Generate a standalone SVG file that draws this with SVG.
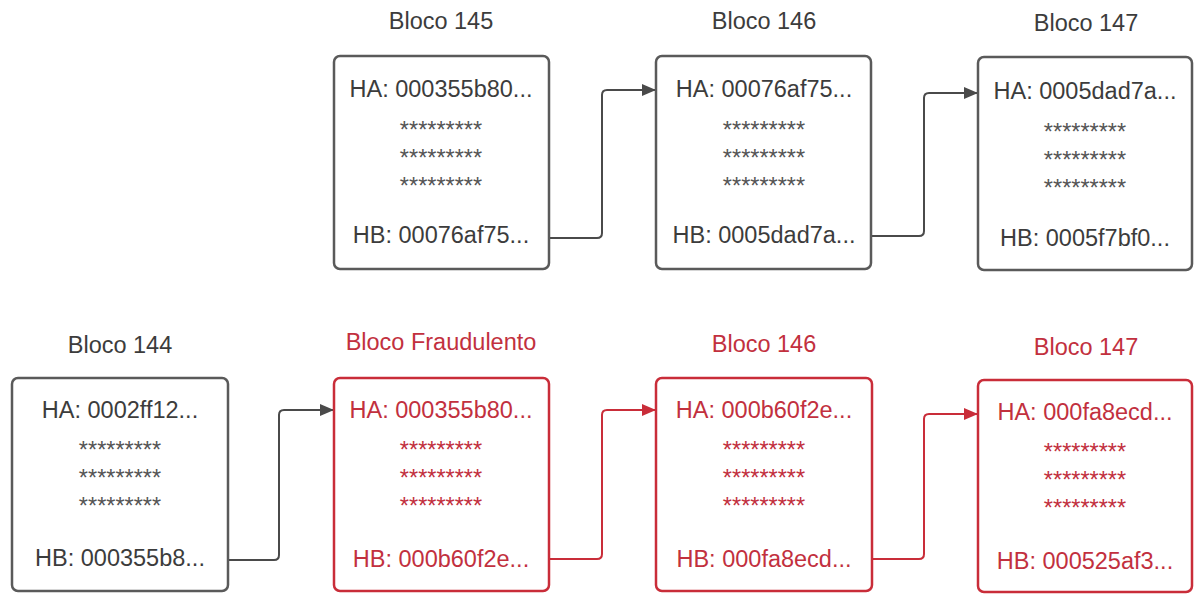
<svg xmlns="http://www.w3.org/2000/svg" width="1194" height="594" viewBox="0 0 1194 594">
<defs>
<marker id="ag" viewBox="0 0 14 12" refX="13" refY="6" markerWidth="14" markerHeight="12" markerUnits="userSpaceOnUse" orient="auto"><path d="M0,0 L14,6 L0,12 Z" fill="#4a4a4a"/></marker>
<marker id="ar" viewBox="0 0 14 12" refX="13" refY="6" markerWidth="14" markerHeight="12" markerUnits="userSpaceOnUse" orient="auto"><path d="M0,0 L14,6 L0,12 Z" fill="#c92d39"/></marker>
</defs>
<style>
text{font-family:"Liberation Sans",Arial,sans-serif;text-anchor:middle;font-size:23.5px}
.g text{fill:#3c3c3c}
.g .s{fill:#555}
.r text{fill:#c2303e}
.g rect{fill:#fff;stroke:#5a5a5a;stroke-width:2.5}
.r rect{fill:#fff;stroke:#c92d39;stroke-width:2.5}
.cg{fill:none;stroke:#4a4a4a;stroke-width:2;marker-end:url(#ag)}
.cr{fill:none;stroke:#c92d39;stroke-width:2;marker-end:url(#ar)}
</style>
<rect width="1194" height="594" fill="#fff"/>
<g id="connectors">
<path class="cg" d="M550,238 H597 Q602,238 602,233 V95 Q602,90 607,90 H655"/>
<path class="cg" d="M872,236 H919 Q924,236 924,231 V98 Q924,93 929,93 H977"/>
<path class="cg" d="M229,560 H274 Q279,560 279,555 V415 Q279,410 284,410 H333"/>
<path class="cr" d="M550,559 H597 Q602,559 602,554 V415 Q602,410 607,410 H655"/>
<path class="cr" d="M872,559 H919 Q924,559 924,554 V419 Q924,414 929,414 H977"/>
</g>
<g id="bloco145" class="g">
<text x="441" y="29">Bloco 145</text>
<rect x="334" y="56" width="215" height="213" rx="6"/>
<text x="441" y="97">HA: 000355b80...</text>
<text class="s" x="441" y="138">*********</text>
<text class="s" x="441" y="166">*********</text>
<text class="s" x="441" y="194">*********</text>
<text x="441" y="243">HB: 00076af75...</text>
</g>
<g id="bloco146" class="g">
<text x="764" y="29">Bloco 146</text>
<rect x="656" y="56" width="215" height="213" rx="6"/>
<text x="764" y="97">HA: 00076af75...</text>
<text class="s" x="764" y="138">*********</text>
<text class="s" x="764" y="166">*********</text>
<text class="s" x="764" y="194">*********</text>
<text x="764" y="243">HB: 0005dad7a...</text>
</g>
<g id="bloco147" class="g">
<text x="1086" y="31">Bloco 147</text>
<rect x="978" y="57" width="214" height="213" rx="6"/>
<text x="1085" y="99">HA: 0005dad7a...</text>
<text class="s" x="1085" y="140">*********</text>
<text class="s" x="1085" y="168">*********</text>
<text class="s" x="1085" y="196">*********</text>
<text x="1085" y="246">HB: 0005f7bf0...</text>
</g>
<g id="bloco144" class="g">
<text x="120" y="353">Bloco 144</text>
<rect x="12" y="378" width="216" height="213" rx="6"/>
<text x="120" y="418">HA: 0002ff12...</text>
<text class="s" x="120" y="458">*********</text>
<text class="s" x="120" y="486">*********</text>
<text class="s" x="120" y="514">*********</text>
<text x="120" y="566">HB: 000355b8...</text>
</g>
<g id="blocoFraudulento" class="r">
<text x="441" y="350">Bloco Fraudulento</text>
<rect x="334" y="378" width="215" height="213" rx="6"/>
<text x="441" y="418">HA: 000355b80...</text>
<text class="s" x="441" y="458">*********</text>
<text class="s" x="441" y="486">*********</text>
<text class="s" x="441" y="514">*********</text>
<text x="441" y="567">HB: 000b60f2e...</text>
</g>
<g id="bloco146f" class="r">
<text x="764" y="352">Bloco 146</text>
<rect x="656" y="378" width="216" height="213" rx="6"/>
<text x="764" y="418">HA: 000b60f2e...</text>
<text class="s" x="764" y="458">*********</text>
<text class="s" x="764" y="486">*********</text>
<text class="s" x="764" y="514">*********</text>
<text x="764" y="567">HB: 000fa8ecd...</text>
</g>
<g id="bloco147f" class="r">
<text x="1086" y="355">Bloco 147</text>
<rect x="978" y="380" width="214" height="212" rx="6"/>
<text x="1085" y="420">HA: 000fa8ecd...</text>
<text class="s" x="1085" y="460">*********</text>
<text class="s" x="1085" y="488">*********</text>
<text class="s" x="1085" y="516">*********</text>
<text x="1085" y="569">HB: 000525af3...</text>
</g>
</svg>
